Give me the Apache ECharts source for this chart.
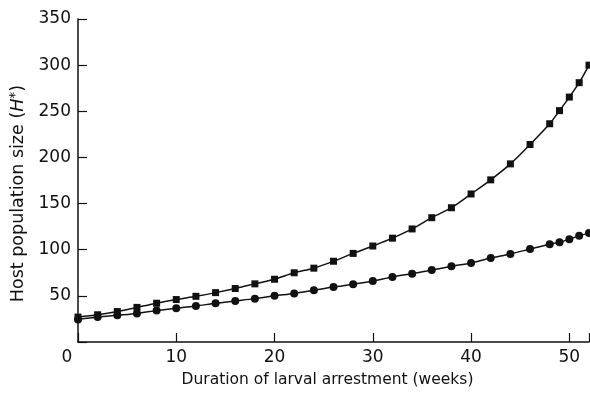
<!DOCTYPE html>
<html><head><meta charset="utf-8">
<script src="https://cdn.jsdelivr.net/npm/echarts@6/dist/echarts.min.js"></script>
<style>html,body{margin:0;padding:0;background:#fff}#c{width:590px;height:393px}</style>
</head><body><div id="c"></div>
<script>
const weeks = [0,2,4,6,8,10,12,14,16,18,20,22,24,26,28,30,32,34,36,38,40,42,44,46,48,49,50,51,52];
const squares = [27,29.5,33,37.5,42,46,49.5,53.5,58,63,68,75,80,87.5,96,104,112.5,122.5,134.7,145.5,160.4,175.7,193,214,236.5,250.7,265.4,281,300];
const circles = [24.5,27,29,31,34,36.5,39,42,44.5,47,50,52.5,56,59.5,62.5,66,70.5,74,78,82,85.7,91,95.4,100.7,106,108.2,111.4,115,118];
const xTicks = [0,10,20,30,40,50];
const yTicks = [50,100,150,200,250,300,350];

const FONT = 'DejaVu Sans';
const ink = '#111';
const chart = echarts.init(document.getElementById('c'), null, {renderer:'canvas'});
chart.setOption({
  animation:false,
  grid:{left:77, right:1, top:19, bottom:46, containLabel:false},
  xAxis:{
    type:'value', min:0, max:52, interval:10,
    name:'Duration of larval arrestment (weeks)', nameLocation:'middle', nameGap:30,
    nameTextStyle:{fontFamily:FONT, fontSize:15.5, color:ink, padding:[0,12,0,0]},
    axisLine:{show:true, onZero:false, lineStyle:{color:ink, width:1.5}},
    axisTick:{show:true, inside:true, length:9, lineStyle:{color:ink, width:1.2}},
    axisLabel:{fontFamily:FONT, fontSize:17, color:ink, margin:7, customValues:xTicks,
      formatter:v=> v===0 ? '{z|0}' : String(v),
      rich:{z:{fontFamily:FONT, fontSize:17, color:ink, padding:[0,22,0,0]}}},
    splitLine:{show:false}
  },
  yAxis:{
    type:'value', min:0, max:350, interval:50,
    name:'{t|Host population size (}{i|H}{s|*}{t|)}', nameLocation:'middle', nameGap:50, nameRotate:90,
    nameTextStyle:{padding:[0,26,0,0], rich:{
      t:{fontFamily:FONT, fontSize:17.5, color:ink},
      i:{fontFamily:FONT, fontSize:17.5, color:ink, fontStyle:'italic'},
      s:{fontFamily:FONT, fontSize:14, color:ink, verticalAlign:'top', padding:[0,0,6,0]}
    }},
    axisLine:{show:true, onZero:false, lineStyle:{color:ink, width:1.5}},
    axisTick:{show:true, inside:true, length:9, lineStyle:{color:ink, width:1.2}},
    axisLabel:{fontFamily:FONT, fontSize:17, color:ink, margin:7, customValues:yTicks},
    splitLine:{show:false}
  },
  series:[
    {type:'line', data:weeks.map((w,i)=>[w,squares[i]]), symbol:'rect', symbolSize:7, smooth:0.3,
      lineStyle:{color:ink, width:1.5}, itemStyle:{color:ink}, clip:false},
    {type:'line', data:weeks.map((w,i)=>[w,circles[i]]), symbol:'circle', symbolSize:8, smooth:0.3,
      lineStyle:{color:ink, width:1.5}, itemStyle:{color:ink}, clip:false}
  ]
});
</script></body></html>
